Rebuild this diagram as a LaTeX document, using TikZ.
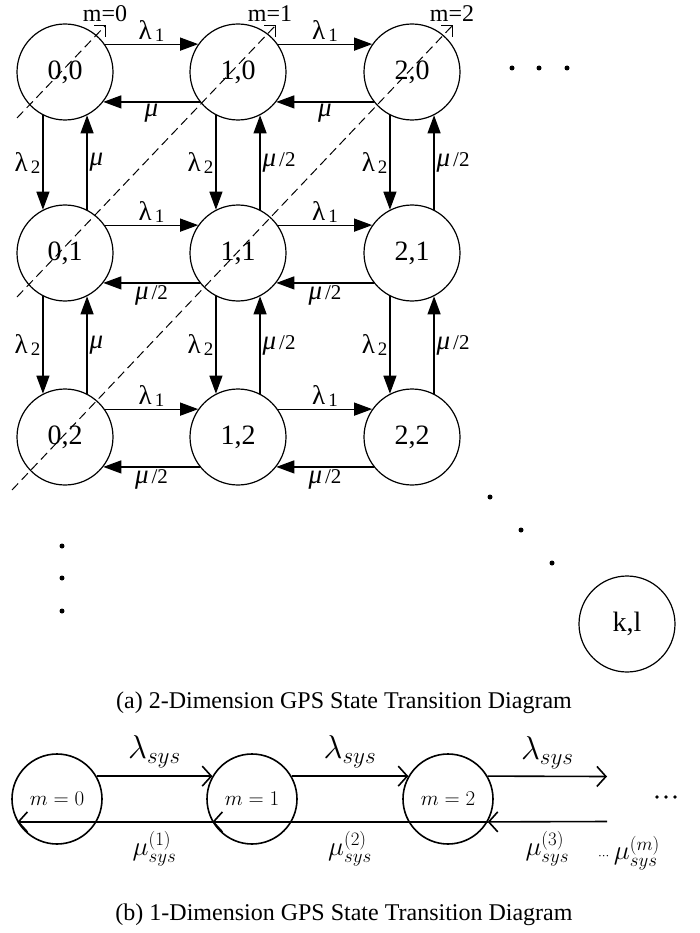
\RequirePackage{fix-cm}
\documentclass[tikz,border=0pt]{standalone}
\usepackage{fontspec}
\setmainfont{Liberation Serif}
\usetikzlibrary{arrows.meta}
\newcommand{\fsz}[1]{\fontsize{#1}{#1}\selectfont}
% edge label texts
\newcommand{\lamone}{{\fsz{27}λ}\kern3pt\raisebox{-2pt}{\fsz{19}1}}
\newcommand{\lamtwo}{{\fsz{27}λ}\kern3pt\raisebox{-2pt}{\fsz{19}2}}
\newcommand{\mufull}{{\fsz{27}\textit{μ}}}
\newcommand{\muhalf}{{\fsz{27}\textit{μ}}\kern3pt/2}
\begin{document}
\begin{tikzpicture}[x=1pt,y=-1pt,
  state/.style={circle,draw,line width=1.2pt,minimum size=96pt,inner sep=0pt,font=\fsz{28}},
  flow/.style={line width=1.2pt,-{Triangle[length=18pt,width=13pt]}},
  lbl/.style={font=\fsz{21},inner sep=2pt},
  guide/.style={line width=1pt,dash pattern=on 9pt off 5pt},
  corner/.style={line width=1pt},
  mlabel/.style={font=\fsz{24},inner sep=0pt},
  dotmark/.style={circle,fill,inner sep=0pt,minimum size=5pt},
  smalldot/.style={circle,fill,inner sep=0pt,minimum size=3.6pt},
  bstate/.style={circle,draw,line width=1.6pt,minimum size=90pt,inner sep=0pt,font=\fsz{21}},
  bflow/.style={line width=1.6pt,-{Straight Barb[length=9pt,width=20pt,line width=1.6pt]}},
  lamlbl/.style={font=\fsz{33},above=7pt,inner sep=0pt},
  mulbl/.style={font=\fsz{27},below=9pt,inner sep=0pt},
  caption/.style={font=\fsz{24}}
]
\useasboundingbox (0,0) rectangle (699,933);

% ---- 2-D state grid ----
\node[state] (n00) at (65,72)  {0,0};
\node[state] (n10) at (238,72) {1,0};
\node[state] (n20) at (412,72) {2,0};
\node[state] (n01) at (65,253)  {0,1};
\node[state] (n11) at (238,253) {1,1};
\node[state] (n21) at (412,253) {2,1};
\node[state] (n02) at (65,437)  {0,2};
\node[state] (n12) at (238,437) {1,2};
\node[state] (n22) at (412,437) {2,2};
\node[state] (nkl) at (627,624) {k,l};

% horizontal transitions
\draw[flow] (n00.35) -- node[lbl,above]{\lamone} (n10.145);
\draw[flow] (n10.-142) -- node[lbl,below]{\mufull} (n00.-38);
\draw[flow] (n10.35) -- node[lbl,above]{\lamone} (n20.145);
\draw[flow] (n20.-142) -- node[lbl,below]{\mufull} (n10.-38);
\draw[flow] (n01.35) -- node[lbl,above]{\lamone} (n11.145);
\draw[flow] (n11.-142) -- node[lbl,below]{\muhalf} (n01.-38);
\draw[flow] (n11.35) -- node[lbl,above]{\lamone} (n21.145);
\draw[flow] (n21.-142) -- node[lbl,below]{\muhalf} (n11.-38);
\draw[flow] (n02.35) -- node[lbl,above]{\lamone} (n12.145);
\draw[flow] (n12.-142) -- node[lbl,below]{\muhalf} (n02.-38);
\draw[flow] (n12.35) -- node[lbl,above]{\lamone} (n22.145);
\draw[flow] (n22.-142) -- node[lbl,below]{\muhalf} (n12.-38);

% vertical transitions
\draw[flow] (n00.-117) -- node[lbl,left]{\lamtwo} (n01.117);
\draw[flow] (n01.63) -- node[lbl,right]{\mufull} (n00.-63);
\draw[flow] (n01.-117) -- node[lbl,left]{\lamtwo} (n02.117);
\draw[flow] (n02.63) -- node[lbl,right]{\mufull} (n01.-63);
\draw[flow] (n10.-117) -- node[lbl,left]{\lamtwo} (n11.117);
\draw[flow] (n11.63) -- node[lbl,right]{\muhalf} (n10.-63);
\draw[flow] (n11.-117) -- node[lbl,left]{\lamtwo} (n12.117);
\draw[flow] (n12.63) -- node[lbl,right]{\muhalf} (n11.-63);
\draw[flow] (n20.-117) -- node[lbl,left]{\lamtwo} (n21.117);
\draw[flow] (n21.63) -- node[lbl,right]{\muhalf} (n20.-63);
\draw[flow] (n21.-117) -- node[lbl,left]{\lamtwo} (n22.117);
\draw[flow] (n22.63) -- node[lbl,right]{\muhalf} (n21.-63);

% diagonal level lines m = const
\coordinate (g0a) at (17,118);  \coordinate (g0b) at (105,26);
\coordinate (g1a) at (17,297);  \coordinate (g1b) at (275,26);
\coordinate (g2a) at (12,490);  \coordinate (g2b) at (452,26);
\draw[guide] (g0a) -- (g0b);
\draw[guide] (g1a) -- (g1b);
\draw[guide] (g2a) -- (g2b);
\draw[corner] (g0b) ++(-11,0) -- ++(11,0) -- ++(0,11);
\draw[corner] (g1b) ++(-11,0) -- ++(11,0) -- ++(0,11);
\draw[corner] (g2b) ++(-11,0) -- ++(11,0) -- ++(0,11);
\node[mlabel] (m0) at (105,14) {m=0};
\node[mlabel] (m1) at (270,14) {m=1};
\node[mlabel] (m2) at (452,14) {m=2};

% continuation dots
\node[dotmark] (h1) at (512,68) {};
\node[dotmark] (h2) at (539,68) {};
\node[dotmark] (h3) at (567,68) {};
\node[dotmark] (d1) at (490,497) {};
\node[dotmark] (d2) at (521,530) {};
\node[dotmark] (d3) at (552,563) {};
\node[dotmark] (v1) at (62,546) {};
\node[dotmark] (v2) at (62,578) {};
\node[dotmark] (v3) at (62,611) {};

\node[caption] (capa) at (344,703) {(a) 2-Dimension GPS State Transition Diagram};

% ---- 1-D chain ----
\node[bstate] (b0) at (57,799)  {$m=0$};
\node[bstate] (b1) at (252,799) {$m=1$};
\node[bstate] (b2) at (448,799) {$m=2$};
\coordinate (oT) at (607,776.5);
\coordinate (oB) at (607,821.5);

\draw[bflow] (b0.30) -- node[lamlbl]{$\lambda_{sys}$} (b1.150);
\draw[bflow] (b1.-30) -- node[mulbl]{$\mu^{(1)}_{sys}$} (b0.-150);
\draw[bflow] (b1.30) -- node[lamlbl]{$\lambda_{sys}$} (b2.150);
\draw[bflow] (b2.-30) -- node[mulbl]{$\mu^{(2)}_{sys}$} (b1.-150);
\draw[bflow] (b2.30) -- node[lamlbl]{$\lambda_{sys}$} (oT);
\draw[bflow] (oB) -- node[mulbl]{$\mu^{(3)}_{sys}$} (b2.-30);

% trailing ellipsis of the chain
\node[smalldot] (e1) at (657,797) {};
\node[smalldot] (e2) at (666,797) {};
\node[smalldot] (e3) at (675,797) {};
\node[font=\fsz{27},anchor=west,inner sep=0pt] (mum) at (598,853) {${\scriptscriptstyle\cdots}\,\mu^{(m)}_{sys}$};

\node[caption] (capb) at (344,915) {(b) 1-Dimension GPS State Transition Diagram};
\end{tikzpicture}
\end{document}
